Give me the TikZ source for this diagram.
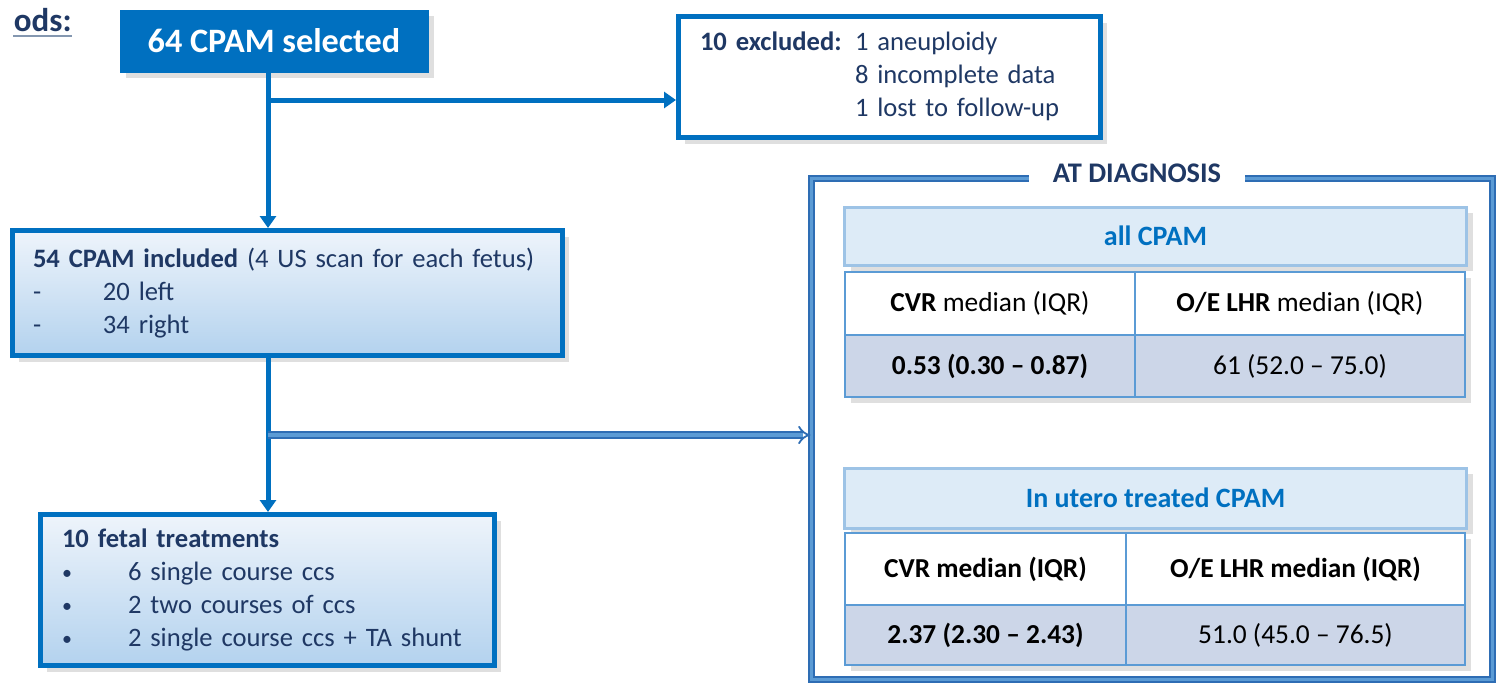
\documentclass[tikz,border=0pt]{standalone}
\usepackage{fontspec}
\setmainfont{Carlito}
\usetikzlibrary{arrows.meta,shadows,calc}
\definecolor{cblue}{HTML}{0070C0}
\definecolor{navy}{HTML}{1F3864}
\definecolor{gtop}{HTML}{EEF4FB}
\definecolor{gbot}{HTML}{B3D2EE}
\definecolor{frameblue}{HTML}{2E6DB4}
\definecolor{framelight}{HTML}{5B9BD5}
\definecolor{hdrfill}{HTML}{DDEBF7}
\definecolor{hdrline}{HTML}{9DC3E6}
\definecolor{cellline}{HTML}{5B9BD5}
\definecolor{rowfill}{HTML}{CCD6E8}
\definecolor{ulgray}{HTML}{8497B0}
\newcommand{\smbul}{\makebox[33pt][l]{\raisebox{0.5pt}{\scalebox{0.75}{\textbullet}}}}
\begin{document}
\begin{tikzpicture}[x=0.5pt,y=-0.5pt,
  txt/.style={font=\fontsize{13.3}{16.5}\selectfont, text=navy},
  shad/.style={drop shadow={opacity=0.25, shadow xshift=3pt, shadow yshift=-3pt}},
  box/.style={draw=cblue, line width=2.5pt, shad, inner sep=0pt},
  gbox/.style={box, top color=gtop, bottom color=gbot, txt, align=left},
  arr/.style={draw=cblue, line width=2.5pt, -{Triangle[length=6pt,width=8pt]}},
  dbl/.style={draw=frameblue, double=framelight, line width=0.9pt, double distance=2.2pt, -{Implies}},
  cell/.style={draw=cellline, line width=1pt, inner sep=0pt, font=\fontsize{13.7}{16}\selectfont, text=black, shad},
  hdr/.style={draw=hdrline, fill=hdrfill, line width=1.5pt, inner sep=0pt, minimum width=311pt, font=\fontsize{14}{16}\selectfont\bfseries, text=cblue, shad},
]
\useasboundingbox (0,0) rectangle (1500,686);

% header fragment
\node[anchor=base east, inner sep=0pt, font=\fontsize{16.5}{18}\selectfont\bfseries, text=navy] (ttl) at (72,31) {ods:};
\draw[ulgray, line width=1pt] ($(ttl.base west)+(0,5)$) coordinate (ul1) -- ($(ttl.base east)+(0,5)$) coordinate (ul2);

% 64 selected
\node[fill=cblue, draw=cblue, line width=0.5pt, shad, minimum width=154pt, minimum height=31pt, inner sep=0pt,
      font=\fontsize{17.1}{18}\selectfont\bfseries, text=white] (sel) at (274,41) {64 CPAM selected};

% excluded
\node[box, fill=white, minimum width=211pt, minimum height=60.5pt, txt, text width=189.5pt, inner xsep=10.75pt, align=left] (exc) at (889.5,77)
 {\begin{tabular}{@{}p{77.5pt}@{}l@{}}\textbf{10 excluded:} & 1 aneuploidy\\ & 8 incomplete data\\ & 1 lost to follow-up\end{tabular}};

% included
\node[gbox, minimum width=275pt, minimum height=62.5pt, text width=254.5pt, inner xsep=10.25pt] (inc) at (287.5,293)
 {\textbf{54 CPAM included} (4 US scan for each fetus)\\ \makebox[35pt][l]{-}20 left\\ \makebox[35pt][l]{-}34 right};

% treatments
\node[gbox, minimum width=227pt, minimum height=75.5pt, text width=205.5pt, inner xsep=10.75pt] (trt) at (267.5,590)
 {\textbf{10 fetal treatments}\\ \smbul 6 single course ccs\\ \smbul 2 two courses of ccs\\ \smbul 2 single course ccs + TA shunt};

% diagnosis frame
\node[draw=frameblue, double=framelight, line width=1pt, double distance=1.5pt, minimum width=340.5pt, minimum height=250.5pt, inner sep=0pt] (dia) at (1152,429) {};
\node[fill=white, inner xsep=12pt, inner ysep=2pt, font=\fontsize{14.2}{16}\selectfont\bfseries, text=navy] (dtl) at (1137,173) {AT DIAGNOSIS};

% table 1
\node[hdr, minimum height=29pt] (t1h) at (1155.5,236) {all CPAM};
\node[cell, fill=white, minimum width=145pt, minimum height=31.5pt] (t1a) at (990,303.5) {\textbf{CVR} median (IQR)};
\node[cell, fill=white, minimum width=165pt, minimum height=31.5pt] (t1b) at (1300,303.5) {\textbf{O/E LHR} median (IQR)};
\node[cell, fill=rowfill, minimum width=145pt, minimum height=31pt] (t1c) at (990,366) {\textbf{0.53 (0.30 -- 0.87)}};
\node[cell, fill=rowfill, minimum width=165pt, minimum height=31pt] (t1d) at (1300,366) {61 (52.0 -- 75.0)};

% table 2
\node[hdr, minimum height=30pt] (t2h) at (1155.5,498) {In utero treated CPAM};
\node[cell, fill=white, minimum width=140.5pt, minimum height=36pt] (t2a) at (985.5,569) {\textbf{CVR median (IQR)}};
\node[cell, fill=white, minimum width=169.5pt, minimum height=36pt] (t2b) at (1295.5,569) {\textbf{O/E LHR median (IQR)}};
\node[cell, fill=rowfill, minimum width=140.5pt, minimum height=30pt] (t2c) at (985.5,635) {\textbf{2.37 (2.30 -- 2.43)}};
\node[cell, fill=rowfill, minimum width=169.5pt, minimum height=30pt] (t2d) at (1295.5,635) {51.0 (45.0 -- 76.5)};

% connectors
\coordinate (jx) at (268,0);
\coordinate (b1) at (268,100);
\coordinate (b2) at (268,435);
\draw[arr] (jx |- sel.south) -- (jx |- inc.north);
\draw[arr] (b1) -- (b1 -| exc.west);
\draw[arr] (jx |- inc.south) -- (jx |- trt.north);
\draw[dbl] (b2) -- (b2 -| dia.west);
\end{tikzpicture}
\end{document}
